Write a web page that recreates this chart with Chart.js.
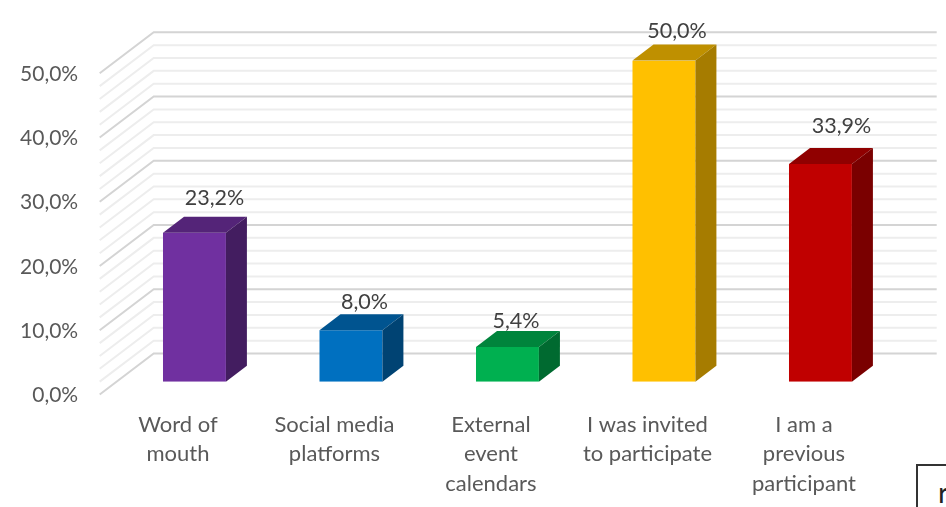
<!DOCTYPE html>
<html>
<head>
<meta charset="utf-8">
<title>Chart</title>
<script src="https://cdn.jsdelivr.net/npm/chart.js@4"></script>
<style>
  html, body { margin: 0; padding: 0; background: #fff; overflow: hidden; }
  #wrap { position: relative; width: 946px; height: 507px; overflow: hidden; }
  #note { position: absolute; left: 916px; top: 464px; width: 60px; height: 60px; box-sizing: border-box;
          border: 2px solid #333; background: #fff; font: 29px/36px Lato, sans-serif; color: #222;
          padding: 8px 0 0 20px; }
</style>
</head>
<body>
<div id="wrap">
  <canvas id="chart" width="946" height="507"></canvas>
  <div id="note">r</div>
</div>
<script>
const categories = [
  ["Word of", "mouth"],
  ["Social media", "platforms"],
  ["External", "event", "calendars"],
  ["I was invited", "to participate"],
  ["I am a", "previous", "participant"]
];
const values = [23.2, 8.0, 5.4, 50.0, 33.9];
const frontColors = ["#7030A0", "#0070C0", "#00B050", "#FFC000", "#C00000"];
const topColors = ["#542478", "#005490", "#00843C", "#BF9000", "#900000"];
const sideColors = ["#431D60", "#004373", "#006A30", "#A67C00", "#7A0000"];
// excel placed the value labels by hand, so each one has its own nudge from the bar top
const labelNudgeX = [20, 13.5, 8.5, 13, 21];
const labelNudgeY = [-35, -28, -26, -29, -38];

const FONT = "Lato, sans-serif";
const wallShift = 12.8;   // front edge of the floor sits lower than the bars
const wallDx = 54, wallDy = -41;
const barDx = 21, barDy = -16;

function pct(v) {
  return v.toFixed(1).replace(".", ",") + "%";
}

function poly(ctx, color, pts) {
  ctx.fillStyle = color;
  ctx.beginPath();
  pts.forEach((p, i) => (i ? ctx.lineTo(p[0], p[1]) : ctx.moveTo(p[0], p[1])));
  ctx.closePath();
  ctx.fill();
}

const wallGrid = {
  id: "wallGrid",
  beforeDatasetsDraw(chart) {
    const ctx = chart.ctx;
    const y = chart.scales.y;
    const x0 = chart.chartArea.left - 16.5;
    const xEnd = chart.chartArea.right + 38;
    ctx.save();
    // minor lines first, majors on top
    for (const major of [false, true]) {
      ctx.strokeStyle = major ? "#D4D4D4" : "#EDEDED";
      ctx.lineWidth = 2;
      for (let v = 0; v <= 50; v += 2) {
        if ((v % 10 === 0) !== major) continue;
        const py = y.getPixelForValue(v) + wallShift;
        ctx.beginPath();
        ctx.moveTo(x0, py);
        ctx.lineTo(x0 + wallDx, py + wallDy);
        ctx.lineTo(xEnd, py + wallDy);
        ctx.stroke();
      }
    }
    ctx.restore();
  }
};

const barFaces = {
  id: "barFaces",
  afterDatasetsDraw(chart) {
    const ctx = chart.ctx;
    ctx.save();
    chart.getDatasetMeta(0).data.forEach((bar, i) => {
      const l = bar.x - bar.width / 2, r = bar.x + bar.width / 2;
      poly(ctx, topColors[i], [[l, bar.y], [r, bar.y], [r + barDx, bar.y + barDy], [l + barDx, bar.y + barDy]]);
      poly(ctx, sideColors[i], [[r, bar.y], [r + barDx, bar.y + barDy], [r + barDx, bar.base + barDy], [r, bar.base]]);
      ctx.fillStyle = "#404040";
      ctx.font = "21.5px " + FONT;
      ctx.textAlign = "center";
      ctx.textBaseline = "middle";
      ctx.fillText(pct(values[i]), bar.x + labelNudgeX[i], bar.y + labelNudgeY[i]);
    });
    ctx.restore();
  }
};

new Chart(document.getElementById("chart"), {
  type: "bar",
  data: {
    labels: categories,
    datasets: [{
      data: values,
      backgroundColor: frontColors,
      borderWidth: 0,
      barPercentage: 1,
      categoryPercentage: 0.402
    }]
  },
  plugins: [wallGrid, barFaces],
  options: {
    responsive: false,
    animation: false,
    layout: { padding: { top: 60.5, right: 47.3, left: 0, bottom: 0 } },
    plugins: { legend: { display: false }, tooltip: { enabled: false } },
    scales: {
      x: {
        grid: { display: false, drawTicks: false },
        border: { display: false },
        afterFit: (s) => { s.height = 125.3; },
        ticks: {
          color: "#595959",
          font: { family: FONT, size: 22, lineHeight: "29.5px" },
          padding: 28,
          labelOffset: -16.5,
          maxRotation: 0,
          autoSkip: false
        }
      },
      y: {
        min: 0,
        max: 50,
        grid: { display: false, drawTicks: false },
        border: { display: false },
        afterFit: (s) => { s.width = 116.2; },
        ticks: {
          stepSize: 10,
          color: "#595959",
          font: { family: FONT, size: 21 },
          padding: 38,
          labelOffset: wallShift + 0.8,
          callback: (v) => pct(v)
        }
      }
    }
  }
});
</script>
</body>
</html>
